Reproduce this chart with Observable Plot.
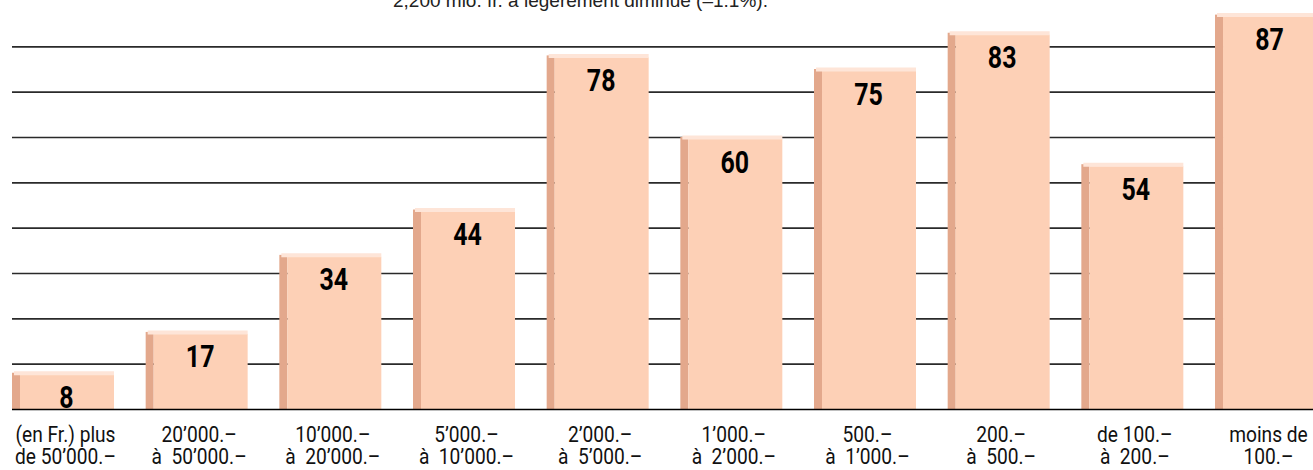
<!DOCTYPE html>
<html>
<head>
<meta charset="utf-8">
<script src="https://cdn.jsdelivr.net/npm/d3@7"></script>
<script src="https://cdn.jsdelivr.net/npm/@observablehq/plot@0.6"></script>
<style>
  html, body { margin: 0; padding: 0; background: #fff; overflow: hidden; }
  #wrap { position: relative; width: 1313px; height: 470px; }
  #sub { position: absolute; left: 393px; top: -9px; font: 19px/19px "Liberation Sans", Arial, sans-serif; color: #222; white-space: nowrap; z-index: 2; }
</style>
</head>
<body>
<div id="wrap">
  <div id="sub">2,200 mio. fr. a légèrement diminué (–1.1%).</div>
  <div id="chart"></div>
</div>
<script>
const categories = ["c1", "c2", "c3", "c4", "c5", "c6", "c7", "c8", "c9", "c10"];
const labelLine1 = ["(en Fr.) plus", "20’000.–", "10’000.–", "5’000.–", "2’000.–", "1’000.–", "500.–", "200.–", "de 100.–", "moins de"];
const labelLine2 = ["de 50’000.–", "à  50’000.–", "à  20’000.–", "à  10’000.–", "à  5’000.–", "à  2’000.–", "à  1’000.–", "à  500.–", "à  200.–", "100.–"];
const values = [8, 17, 34, 44, 78, 60, 75, 83, 54, 87];
const gridTicks = [10, 20, 30, 40, 50, 60, 70, 80];

const data = categories.map((c, i) => ({cat: c, value: values[i], l1: labelLine1[i], l2: labelLine2[i]}));

const font = "Roboto, 'Liberation Sans', sans-serif";
const chart = Plot.plot({
  width: 1313,
  height: 470,
  marginLeft: 12,
  marginRight: 0,
  marginTop: 1,
  marginBottom: 61,
  style: {background: "#fff"},
  x: {domain: categories, range: [12, 1317], paddingInner: 0.237, paddingOuter: 0, round: false, axis: null},
  y: {domain: [0, 90], axis: null},
  marks: [
    Plot.ruleY(gridTicks, {stroke: "#2a2a2a", strokeWidth: 1.6}),
    Plot.barY(data, {x: "cat", y: "value", fill: "#e3a88c", insetRight: 94}),
    Plot.barY(data, {x: "cat", y: "value", fill: "#fdd0b6", insetLeft: 8, insetTop: 2}),
    Plot.tickY(data, {x: "cat", y: "value", stroke: "#fee5d8", strokeWidth: 4, insetLeft: 2}),
    Plot.ruleY([0], {stroke: "#000", strokeWidth: 1.6}),
    Plot.text(data, {x: "cat", y: "value", text: d => String(d.value), dx: 3, dy: 35, lineAnchor: "bottom",
      fontSize: 32, fontWeight: "bold", fontFamily: font, fill: "#000", className: "vals"}),
    Plot.text(data, {x: "cat", y: 0, text: "l1", dx: 2, dy: 32, lineAnchor: "bottom",
      fontSize: 22, fontFamily: font, fill: "#111", className: "lab"}),
    Plot.text(data, {x: "cat", y: 0, text: "l2", dx: 2, dy: 54, lineAnchor: "bottom",
      fontSize: 22, fontFamily: font, fill: "#111", className: "lab"})
  ]
});
document.getElementById("chart").appendChild(chart);

// condense glyphs horizontally to mimic the condensed typeface
function condense(sel, k) {
  d3.select(chart).selectAll(sel).each(function() {
    const w = this.getComputedTextLength();
    this.setAttribute("textLength", (w * k).toFixed(1));
    this.setAttribute("lengthAdjust", "spacingAndGlyphs");
  });
}
condense(".vals text", 0.78);
condense(".lab text", 0.87);
</script>
</body>
</html>
